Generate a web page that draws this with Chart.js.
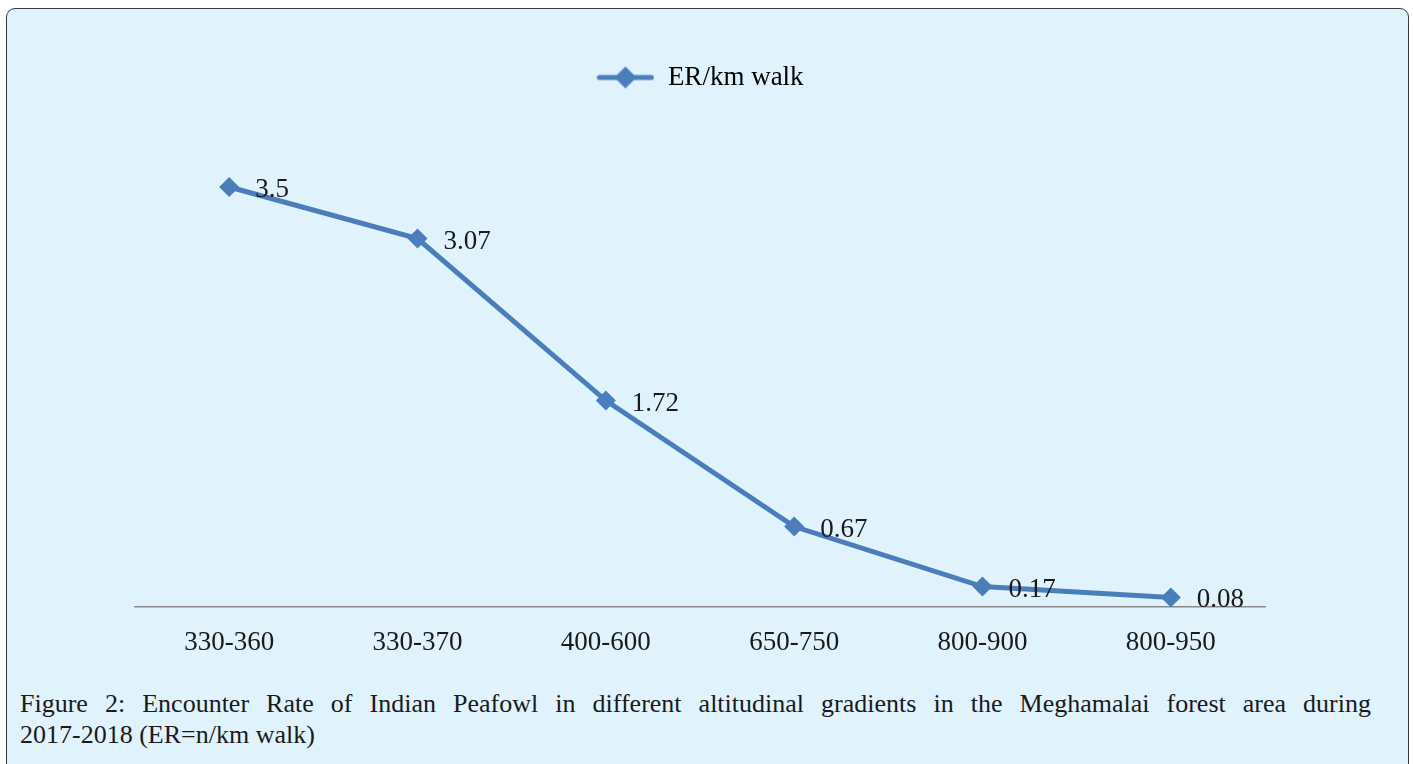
<!DOCTYPE html>
<html>
<head>
<meta charset="utf-8">
<script src="https://cdn.jsdelivr.net/npm/chart.js@4/dist/chart.umd.min.js"></script>
<style>
  html, body { margin: 0; padding: 0; background: #ffffff; width: 1413px; height: 764px; overflow: hidden; }
  #box { position: absolute; left: 6px; top: 8px; width: 1401px; height: 780px; background: #e0f2fc; border: 1.5px solid #3a3a3a; border-radius: 9px; }
  #c { position: absolute; left: 0; top: 0; }
  .cap { position: absolute; left: 20px; width: 1351px; font-family: "Liberation Serif", serif; font-size: 26px; line-height: 31px; color: #1a1a1a; white-space: nowrap; }
  #cap1 { top: 688px; text-align: justify; text-align-last: justify; white-space: normal; }
  #cap2 { top: 719px; }
</style>
</head>
<body>
<div id="box"></div>
<canvas id="c" width="1413" height="680"></canvas>
<div class="cap" id="cap1">Figure 2: Encounter Rate of Indian Peafowl in different altitudinal gradients in the Meghamalai forest area during</div>
<div class="cap" id="cap2">2017-2018 (ER=n/km walk)</div>
<script>
const categories = ["330-360", "330-370", "400-600", "650-750", "800-900", "800-950"];
const erValues = [3.5, 3.07, 1.72, 0.67, 0.17, 0.08];
const valueLabels = ["3.5", "3.07", "1.72", "0.67", "0.17", "0.08"];
const seriesName = "ER/km walk";

const LINE = "#4a7ebb";
const FONT = "Liberation Serif";

// legend marker: line with a diamond
const mk = document.createElement("canvas");
mk.width = 58; mk.height = 24;
(function () {
  const g = mk.getContext("2d");
  g.strokeStyle = LINE; g.lineWidth = 5; g.lineCap = "round";
  g.beginPath(); g.moveTo(3, 12); g.lineTo(55, 12); g.stroke();
  g.fillStyle = LINE;
  g.beginPath(); g.moveTo(29, 1); g.lineTo(40, 12); g.lineTo(29, 23); g.lineTo(18, 12); g.closePath(); g.fill();
})();

const labelPlugin = {
  id: "valueLabels",
  afterDatasetsDraw(chart) {
    const ctx = chart.ctx;
    const meta = chart.getDatasetMeta(0);
    ctx.save();
    ctx.font = "27px '" + FONT + "'";
    ctx.fillStyle = "#1a1a1a";
    ctx.textAlign = "left";
    ctx.textBaseline = "middle";
    meta.data.forEach((pt, i) => {
      ctx.fillText(valueLabels[i], pt.x + 26, pt.y + 3);
    });
    ctx.restore();
  }
};

new Chart(document.getElementById("c"), {
  type: "line",
  data: {
    labels: categories,
    datasets: [{
      label: seriesName,
      data: erValues,
      borderColor: LINE,
      backgroundColor: LINE,
      borderWidth: 5,
      pointStyle: "rectRot",
      pointRadius: 10,
      pointBorderWidth: 0,
      pointBackgroundColor: LINE,
      tension: 0,
      fill: false
    }]
  },
  options: {
    responsive: false,
    animation: false,
    layout: { padding: { left: 135, right: 148, top: 52, bottom: 13 } },
    plugins: {
      tooltip: { enabled: false },
      subtitle: {
        display: true,
        text: "",
        position: "top",
        weight: 500,
        padding: 12,
        font: { size: 2, lineHeight: 1 }
      },
      legend: {
        position: "top",
        labels: {
          usePointStyle: true,
          pointStyleWidth: 58,
          padding: 12,
          color: "#1a1a1a",
          font: { family: FONT, size: 27 },
          generateLabels: (chart) => [{
            text: seriesName,
            pointStyle: mk,
            fillStyle: LINE,
            strokeStyle: LINE,
            lineWidth: 0,
            datasetIndex: 0,
            hidden: false
          }]
        }
      }
    },
    scales: {
      x: {
        offset: true,
        grid: { display: false, drawTicks: false },
        border: { display: true, color: "#888888", width: 1.5 },
        ticks: { color: "#1a1a1a", font: { family: FONT, size: 27 }, padding: 20, maxRotation: 0 },
        afterFit: (s) => { s.height = 60; }
      },
      y: {
        display: false,
        min: 0,
        max: 4
      }
    }
  },
  plugins: [labelPlugin]
});
</script>
</body>
</html>
